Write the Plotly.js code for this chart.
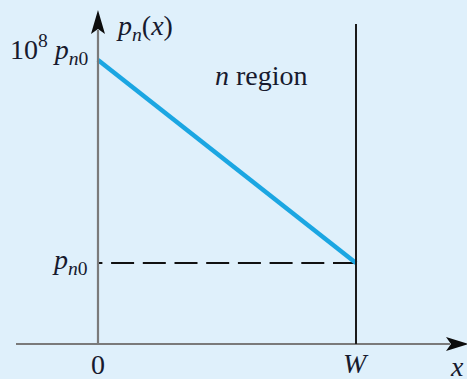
<!DOCTYPE html>
<html>
<head>
<meta charset="utf-8">
<script src="https://cdn.plot.ly/plotly-3.0.1.min.js"></script>
<style>
  html, body { margin: 0; padding: 0; background: #dff0fb; }
  #chart { width: 467px; height: 379px; }
</style>
</head>
<body>
<div id="chart"></div>
<script>
// Positions along the n region: x = 0 and x = W (W taken as 1)
const positions = [0, 1];
const xTickLabels = ['0', '<i>W</i>'];
// Hole concentration relative to equilibrium, p_n(x) / p_n0
const pnRatio = [1e8, 1];
const yTickLabels = ['10<sup>8</sup> <i>p</i><sub><i>n</i>0</sub>', '<i>p</i><sub><i>n</i>0</sub>'];

const W = positions[1];
const bg = '#dff0fb';
const ink = '#171a2e';
const axisGray = '#7a7a7a';
const serif = 'Liberation Serif, Times New Roman, Times, serif';

// Plot area fills the figure; scales chosen so x = 0 and x = W
// sit at the axis and boundary, and the log scale spans the 8 decades.
const xRange = [-0.3798, 1.4302];
const yRange = [-4.571, 10.364];
const xAxisPaper = 1 - 344 / 379;   // height of the x axis line
const yTipPaper = 1 - 10 / 379;     // tip of the vertical axis arrow
const yLineTop = 1 - 30 / 379;
const boundaryTop = 1 - 24 / 379;

const traces = [
  {
    // equilibrium level p_n0, dashed
    x: positions.slice().reverse(),
    y: [pnRatio[1], pnRatio[1]],
    mode: 'lines',
    line: { color: '#111111', width: 2, dash: '23px,8.7px' },
    hoverinfo: 'skip'
  },
  {
    // p_n(x): straight line on the log scale
    x: positions,
    y: pnRatio,
    mode: 'lines',
    line: { color: '#1ba6e2', width: 4.5 },
    hoverinfo: 'skip'
  }
];

const shapes = [
  // x axis
  { type: 'line', xref: 'paper', yref: 'paper', x0: 16 / 467, x1: 450 / 467,
    y0: xAxisPaper, y1: xAxisPaper, line: { color: axisGray, width: 2.2 } },
  // vertical axis
  { type: 'line', xref: 'x', yref: 'paper', x0: positions[0], x1: positions[0],
    y0: xAxisPaper, y1: yLineTop, line: { color: axisGray, width: 2.2 } },
  // boundary at x = W
  { type: 'line', xref: 'x', yref: 'paper', x0: W, x1: W,
    y0: xAxisPaper, y1: boundaryTop, line: { color: '#1a1a1a', width: 2 } },
  // arrow heads
  { type: 'path', xref: 'x', yref: 'paper', xsizemode: 'pixel', ysizemode: 'pixel',
    xanchor: positions[0], yanchor: yTipPaper,
    path: 'M0,0 L-7,-24 L0,-19 L7,-24 Z',
    fillcolor: '#0d0d0d', line: { width: 0 } },
  { type: 'path', xref: 'paper', yref: 'paper', xsizemode: 'pixel', ysizemode: 'pixel',
    xanchor: 1, yanchor: xAxisPaper,
    path: 'M2,0 L-21,7 L-16,0 L-21,-7 Z',
    fillcolor: '#0d0d0d', line: { width: 0 } }
];

const font = { family: serif, size: 28, color: ink };
const annotations = [
  // tick labels on the position axis
  { x: positions[0], y: 1 - 364 / 379, xref: 'x', yref: 'paper', text: xTickLabels[0],
    showarrow: false, xanchor: 'center', yanchor: 'middle', font: font },
  { x: W, y: 1 - 363 / 379, xref: 'x', yref: 'paper', text: xTickLabels[1],
    showarrow: false, xanchor: 'center', yanchor: 'middle', font: font },
  // labels on the concentration axis (log axis: positions in decades)
  { x: positions[0], y: Math.log10(pnRatio[0]), xref: 'x', yref: 'y', text: yTickLabels[0],
    showarrow: false, xanchor: 'right', yanchor: 'middle', xshift: -7, yshift: 10, font: font },
  { x: positions[0], y: Math.log10(pnRatio[1]), xref: 'x', yref: 'y', text: yTickLabels[1],
    showarrow: false, xanchor: 'right', yanchor: 'middle', xshift: -8, yshift: 2, font: font },
  // axis titles
  { x: 114 / 467, y: 1 - 27 / 379, xref: 'paper', yref: 'paper',
    text: '<i>p<sub>n</sub></i>(<i>x</i>)',
    showarrow: false, xanchor: 'left', yanchor: 'middle', font: font },
  { x: 466 / 467, y: 1 - 366 / 379, xref: 'paper', yref: 'paper', text: '<i>x</i>',
    showarrow: false, xanchor: 'right', yanchor: 'middle', font: font },
  // region label
  { x: 261 / 467, y: 1 - 75 / 379, xref: 'paper', yref: 'paper', text: '<i>n</i> region',
    showarrow: false, xanchor: 'center', yanchor: 'middle', font: font }
];

const layout = {
  width: 467,
  height: 379,
  margin: { l: 0, r: 0, t: 0, b: 0, pad: 0 },
  paper_bgcolor: bg,
  plot_bgcolor: bg,
  showlegend: false,
  xaxis: { range: xRange, visible: false, fixedrange: true },
  yaxis: { type: 'log', range: yRange, visible: false, fixedrange: true },
  shapes: shapes,
  annotations: annotations
};

Plotly.newPlot('chart', traces, layout, { staticPlot: true, displayModeBar: false });
</script>
</body>
</html>
